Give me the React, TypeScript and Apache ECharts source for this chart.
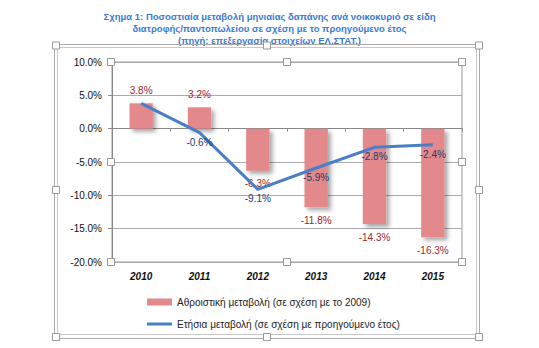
import React, { useEffect, useRef } from "react";
import * as echarts from "echarts";

const years = ["2010", "2011", "2012", "2013", "2014", "2015"];
const cumulative = [3.8, 3.2, -6.3, -11.8, -14.3, -16.3];
const annual = [3.8, -0.6, -9.1, -5.9, -2.8, -2.4];
const annualLabelShown = [false, true, true, true, true, true];
const titleLines = [
  "Σχημα 1: Ποσοστιαία μεταβολή μηνιαίας δαπάνης ανά νοικοκυριό σε είδη",
  "διατροφής/παντοπωλείου σε σχέση με το προηγούμενο έτος",
  "(πηγή: επεξεργασία στοιχείων ΕΛ.ΣΤΑΤ.)",
];
const cumulativeName = "Αθροιστική μεταβολή (σε σχέση με το 2009)";
const annualName = "Ετήσια μεταβολή (σε σχέση με προηγούμενο έτος)";

const handle = (cx: number, cy: number) => ({
  type: "rect",
  shape: { x: cx - 3.5, y: cy - 3.5, width: 7, height: 7 },
  style: { fill: "#fff", stroke: "#999", lineWidth: 1 },
  z: 100,
});

export default function App() {
  const ref = useRef<HTMLDivElement>(null);
  useEffect(() => {
    if (!ref.current) return;
    const chart = echarts.init(ref.current, undefined, { renderer: "svg" });
    const font = "Arial, 'Liberation Sans', sans-serif";
    chart.setOption({
      animation: false,
      textStyle: { fontFamily: font },
      title: {
        text: titleLines.join("\n"),
        left: "center",
        top: 5,
        textStyle: {
          fontSize: 9.5,
          fontWeight: "bold",
          color: "#3a7bd3",
          lineHeight: 12,
          fontFamily: font,
          align: "center",
        },
      },
      graphic: [
        { type: "rect", shape: { x: 54.5, y: 44.5, width: 425, height: 294 }, style: { fill: "none", stroke: "#aaa", lineWidth: 1 }, z: 90 },
        { type: "rect", shape: { x: 57.5, y: 47.5, width: 419, height: 287 }, style: { fill: "none", stroke: "#c8c8c8", lineWidth: 1 }, z: 90 },
        handle(56, 45.5),
        handle(267, 45.5),
        handle(479, 45.5),
        handle(56, 190),
        handle(479, 190),
        handle(56, 337),
        handle(267, 337),
        handle(479, 337),
        handle(111, 62),
        handle(287, 62),
        handle(462, 62),
        handle(111, 162),
        handle(462, 162),
        handle(111, 262),
        handle(287, 262),
        handle(462, 262),
      ],
      legend: {
        orient: "vertical",
        left: 142,
        top: 292,
        itemWidth: 25,
        itemHeight: 7,
        itemGap: 12,
        textStyle: { fontSize: 10, color: "#222", fontFamily: font },
        data: [
          { name: cumulativeName, icon: "rect" },
          { name: annualName, icon: "path://M0 0H25V3H0Z", itemStyle: { color: "#4a7fc6" } },
        ],
      },
      grid: {
        left: 112,
        right: 77,
        top: 62,
        bottom: 86,
        show: true,
        borderColor: "#999",
        borderWidth: 1,
      },
      xAxis: [
        {
          type: "category",
          data: years,
          position: "bottom",
          axisLine: { show: false, onZero: false },
          axisTick: { show: false },
          axisLabel: {
            fontSize: 10,
            fontWeight: "bold",
            fontStyle: "italic",
            color: "#111",
            margin: 9,
          },
        },
        {
          type: "category",
          data: years,
          position: "bottom",
          axisLine: { show: true, onZero: true, lineStyle: { color: "#888", width: 1 } },
          axisTick: { show: true, length: 3, lineStyle: { color: "#888" } },
          axisLabel: { show: false },
        },
      ],
      yAxis: {
        type: "value",
        min: -20,
        max: 10,
        interval: 5,
        axisLine: { show: true, lineStyle: { color: "#888" } },
        axisTick: { show: true, length: 4, lineStyle: { color: "#888" } },
        splitLine: { lineStyle: { color: "#aaa", width: 1 } },
        axisLabel: {
          fontSize: 10,
          color: "#111",
          margin: 10,
          formatter: (v: number) => v.toFixed(1) + "%",
        },
      },
      series: [
        {
          name: cumulativeName,
          type: "bar",
          xAxisIndex: 0,
          barWidth: "40%",
          itemStyle: {
            color: "#e3898c",
            shadowBlur: 4,
            shadowColor: "rgba(0,0,0,0.35)",
            shadowOffsetX: 3,
            shadowOffsetY: 3,
          },
          data: cumulative.map((v) => ({
            value: v,
            label: { position: v >= 0 ? "top" : "bottom" },
          })),
          label: {
            show: true,
            distance: 8,
            fontSize: 10,
            color: "#a0262c",
            formatter: (p: any) => p.value.toFixed(1) + "%",
          },
          z: 2,
        },
        {
          name: annualName,
          type: "line",
          xAxisIndex: 0,
          symbol: "circle",
          symbolSize: 1,
          showSymbol: true,
          lineStyle: { color: "#4a7fc6", width: 3 },
          itemStyle: { color: "rgba(0,0,0,0)" },
          data: annual.map((v, i) => ({
            value: v,
            label: { show: annualLabelShown[i] },
          })),
          label: {
            show: true,
            position: "bottom",
            distance: 4,
            fontSize: 10,
            color: "#1f3a6e",
            formatter: (p: any) => p.value.toFixed(1) + "%",
          },
          z: 3,
        },
      ],
    });
    return () => chart.dispose();
  }, []);
  return <div ref={ref} style={{ width: 539, height: 348, position: "absolute", left: 0, top: 0 }} />;
}
